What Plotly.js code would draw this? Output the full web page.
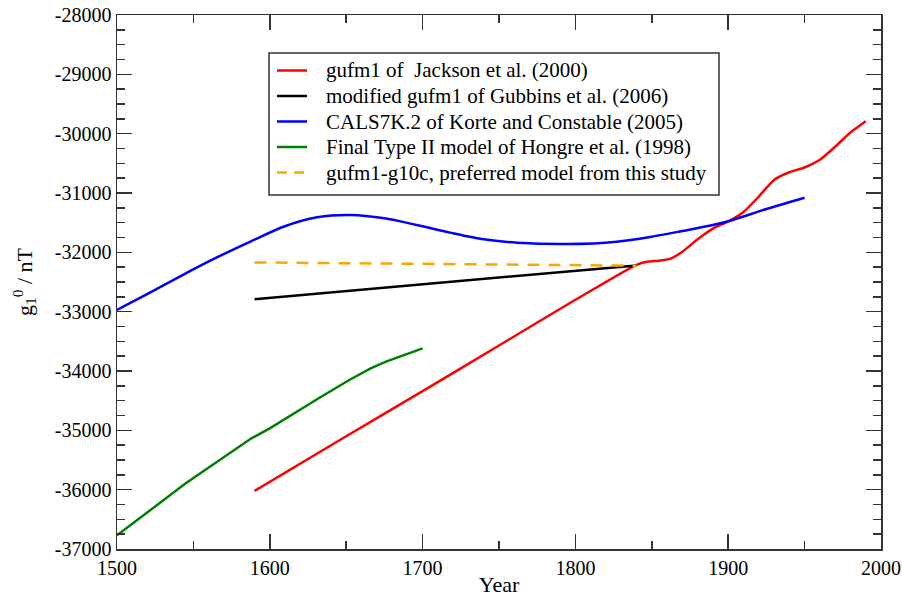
<!DOCTYPE html>
<html>
<head>
<meta charset="utf-8">
<script src="https://cdn.plot.ly/plotly-3.0.1.min.js"></script>
<style>html,body{margin:0;padding:0;background:#fff;}#chart{width:902px;height:597px;}</style>
</head>
<body>
<div id="chart"></div>
<script>
// gufm1 of Jackson et al. (2000)
const redYears = [1590,1650,1700,1750,1800,1840,1847,1855,1862,1870,1880,1890,1900,1910,1920,1930,1940,1950,1960,1970,1980,1990];
const redG10   = [-36020,-35100,-34340,-33570,-32800,-32210,-32160,-32140,-32110,-31990,-31780,-31600,-31480,-31320,-31060,-30780,-30650,-30570,-30440,-30220,-29980,-29790];

// modified gufm1 of Gubbins et al. (2006)
const blackYears = [1590,1840];
const blackG10   = [-32790,-32220];

// CALS7K.2 of Korte and Constable (2005)
const blueYears = [1500,1520,1545,1565,1588,1609,1631,1653,1675,1696,1718,1740,1762,1795,1827,1849,1870,1890,1903,1925,1950];
const blueG10   = [-32970,-32700,-32354,-32090,-31810,-31568,-31410,-31371,-31427,-31539,-31668,-31781,-31837,-31860,-31820,-31740,-31640,-31540,-31455,-31270,-31080];

// Final Type II model of Hongre et al. (1998)
const greenYears = [1500,1545,1588,1600,1632,1652,1666,1676,1700];
const greenG10   = [-36770,-35893,-35135,-34966,-34460,-34152,-33955,-33843,-33618];

// gufm1-g10c, preferred model from this study
const orangeYears = [1590,1840];
const orangeG10   = [-32170,-32225];

const seriesNames = [
  'gufm1 of  Jackson et al. (2000)',
  'modified gufm1 of Gubbins et al. (2006)',
  'CALS7K.2 of Korte and Constable (2005)',
  'Final Type II model of Hongre et al. (1998)',
  'gufm1-g10c, preferred model from this study'
];
const seriesColors = ['#ff0000', '#000000', '#0000ff', '#008000', '#ffa500'];
const seriesDash = ['solid', 'solid', 'solid', 'solid', '12px,9px'];

const xTickVals = [1500,1600,1700,1800,1900,2000];
const yTickVals = [-37000,-36000,-35000,-34000,-33000,-32000,-31000,-30000,-29000,-28000];

const FONT = 'Liberation Serif';

const W = 902, H = 597;
const M = {l: 117, r: 21, t: 15, b: 48};
const PW = W - M.l - M.r, PH = H - M.t - M.b;
const px = X => (X - M.l) / PW;          // pixel -> paper x
const py = Y => (H - M.b - Y) / PH;      // pixel -> paper y

const dataX = [redYears, blackYears, blueYears, greenYears, orangeYears];
const dataY = [redG10, blackG10, blueG10, greenG10, orangeG10];
const shapesOpt = [{shape: 'spline', smoothing: 0.6}, {}, {shape: 'spline', smoothing: 0.8}, {}, {}];

const traces = dataX.map((xs, i) => ({
  x: xs, y: dataY[i], name: seriesNames[i], mode: 'lines', showlegend: false,
  line: Object.assign({color: seriesColors[i], width: 2.5, dash: seriesDash[i]}, shapesOpt[i])
}));

// Hand-built legend box (tighter line spacing than Plotly's native legend allows)
const LEG = {x0: 269, x1: 719, y0: 53, y1: 195, lineX0: 277, lineX1: 307, textX: 324, row0: 70.5, rowGap: 25.5};
const shapes = [{
  type: 'rect', xref: 'paper', yref: 'paper',
  x0: px(LEG.x0), x1: px(LEG.x1), y0: py(LEG.y1), y1: py(LEG.y0),
  line: {color: '#333', width: 1.5}, fillcolor: '#fff', layer: 'above'
}];
const annotations = [];
seriesNames.forEach((nm, i) => {
  const Y = LEG.row0 + i * LEG.rowGap;
  shapes.push({
    type: 'line', xref: 'paper', yref: 'paper',
    x0: px(LEG.lineX0), x1: px(LEG.lineX1), y0: py(Y), y1: py(Y),
    line: {color: seriesColors[i], width: 2.5, dash: i === 4 ? '10px,7px' : 'solid'}, layer: 'above'
  });
  annotations.push({
    xref: 'paper', yref: 'paper', x: px(LEG.textX), y: py(Y),
    xanchor: 'left', yanchor: 'middle', showarrow: false, text: nm,
    font: {family: FONT, size: 21, color: '#000'}
  });
});

function axis(extra) {
  return Object.assign({
    showline: true, mirror: 'ticks', linecolor: '#333', linewidth: 1.5,
    ticks: 'inside', ticklen: 15, tickwidth: 1.5, tickcolor: '#333',
    showgrid: false, zeroline: false,
    tickfont: {family: FONT, size: 20, color: '#000'}
  }, extra);
}

const layout = {
  width: W, height: H,
  margin: M,
  paper_bgcolor: '#fff', plot_bgcolor: '#fff',
  font: {family: FONT, color: '#000', size: 20},
  showlegend: false,
  xaxis: axis({
    range: [1500, 2000], tickvals: xTickVals, ticktext: xTickVals.map(String),
    minor: {dtick: 50, ticks: 'inside', ticklen: 8, tickwidth: 1.5, tickcolor: '#333', showgrid: false},
    title: {text: 'Year', font: {family: FONT, size: 22, color: '#000'}, standoff: 1}
  }),
  yaxis: axis({
    range: [-37000, -28000], tickvals: yTickVals, ticktext: yTickVals.map(v => '-' + Math.abs(v)),
    minor: {dtick: 250, ticks: 'inside', ticklen: 8, tickwidth: 1.5, tickcolor: '#333', showgrid: false},
    title: {text: 'g<sub>1</sub><sup>0</sup> / nT', font: {family: FONT, size: 22, color: '#000'}, standoff: 16}
  }),
  shapes: shapes,
  annotations: annotations
};

Plotly.newPlot('chart', traces, layout, {displayModeBar: false, staticPlot: true});
</script>
</body>
</html>
